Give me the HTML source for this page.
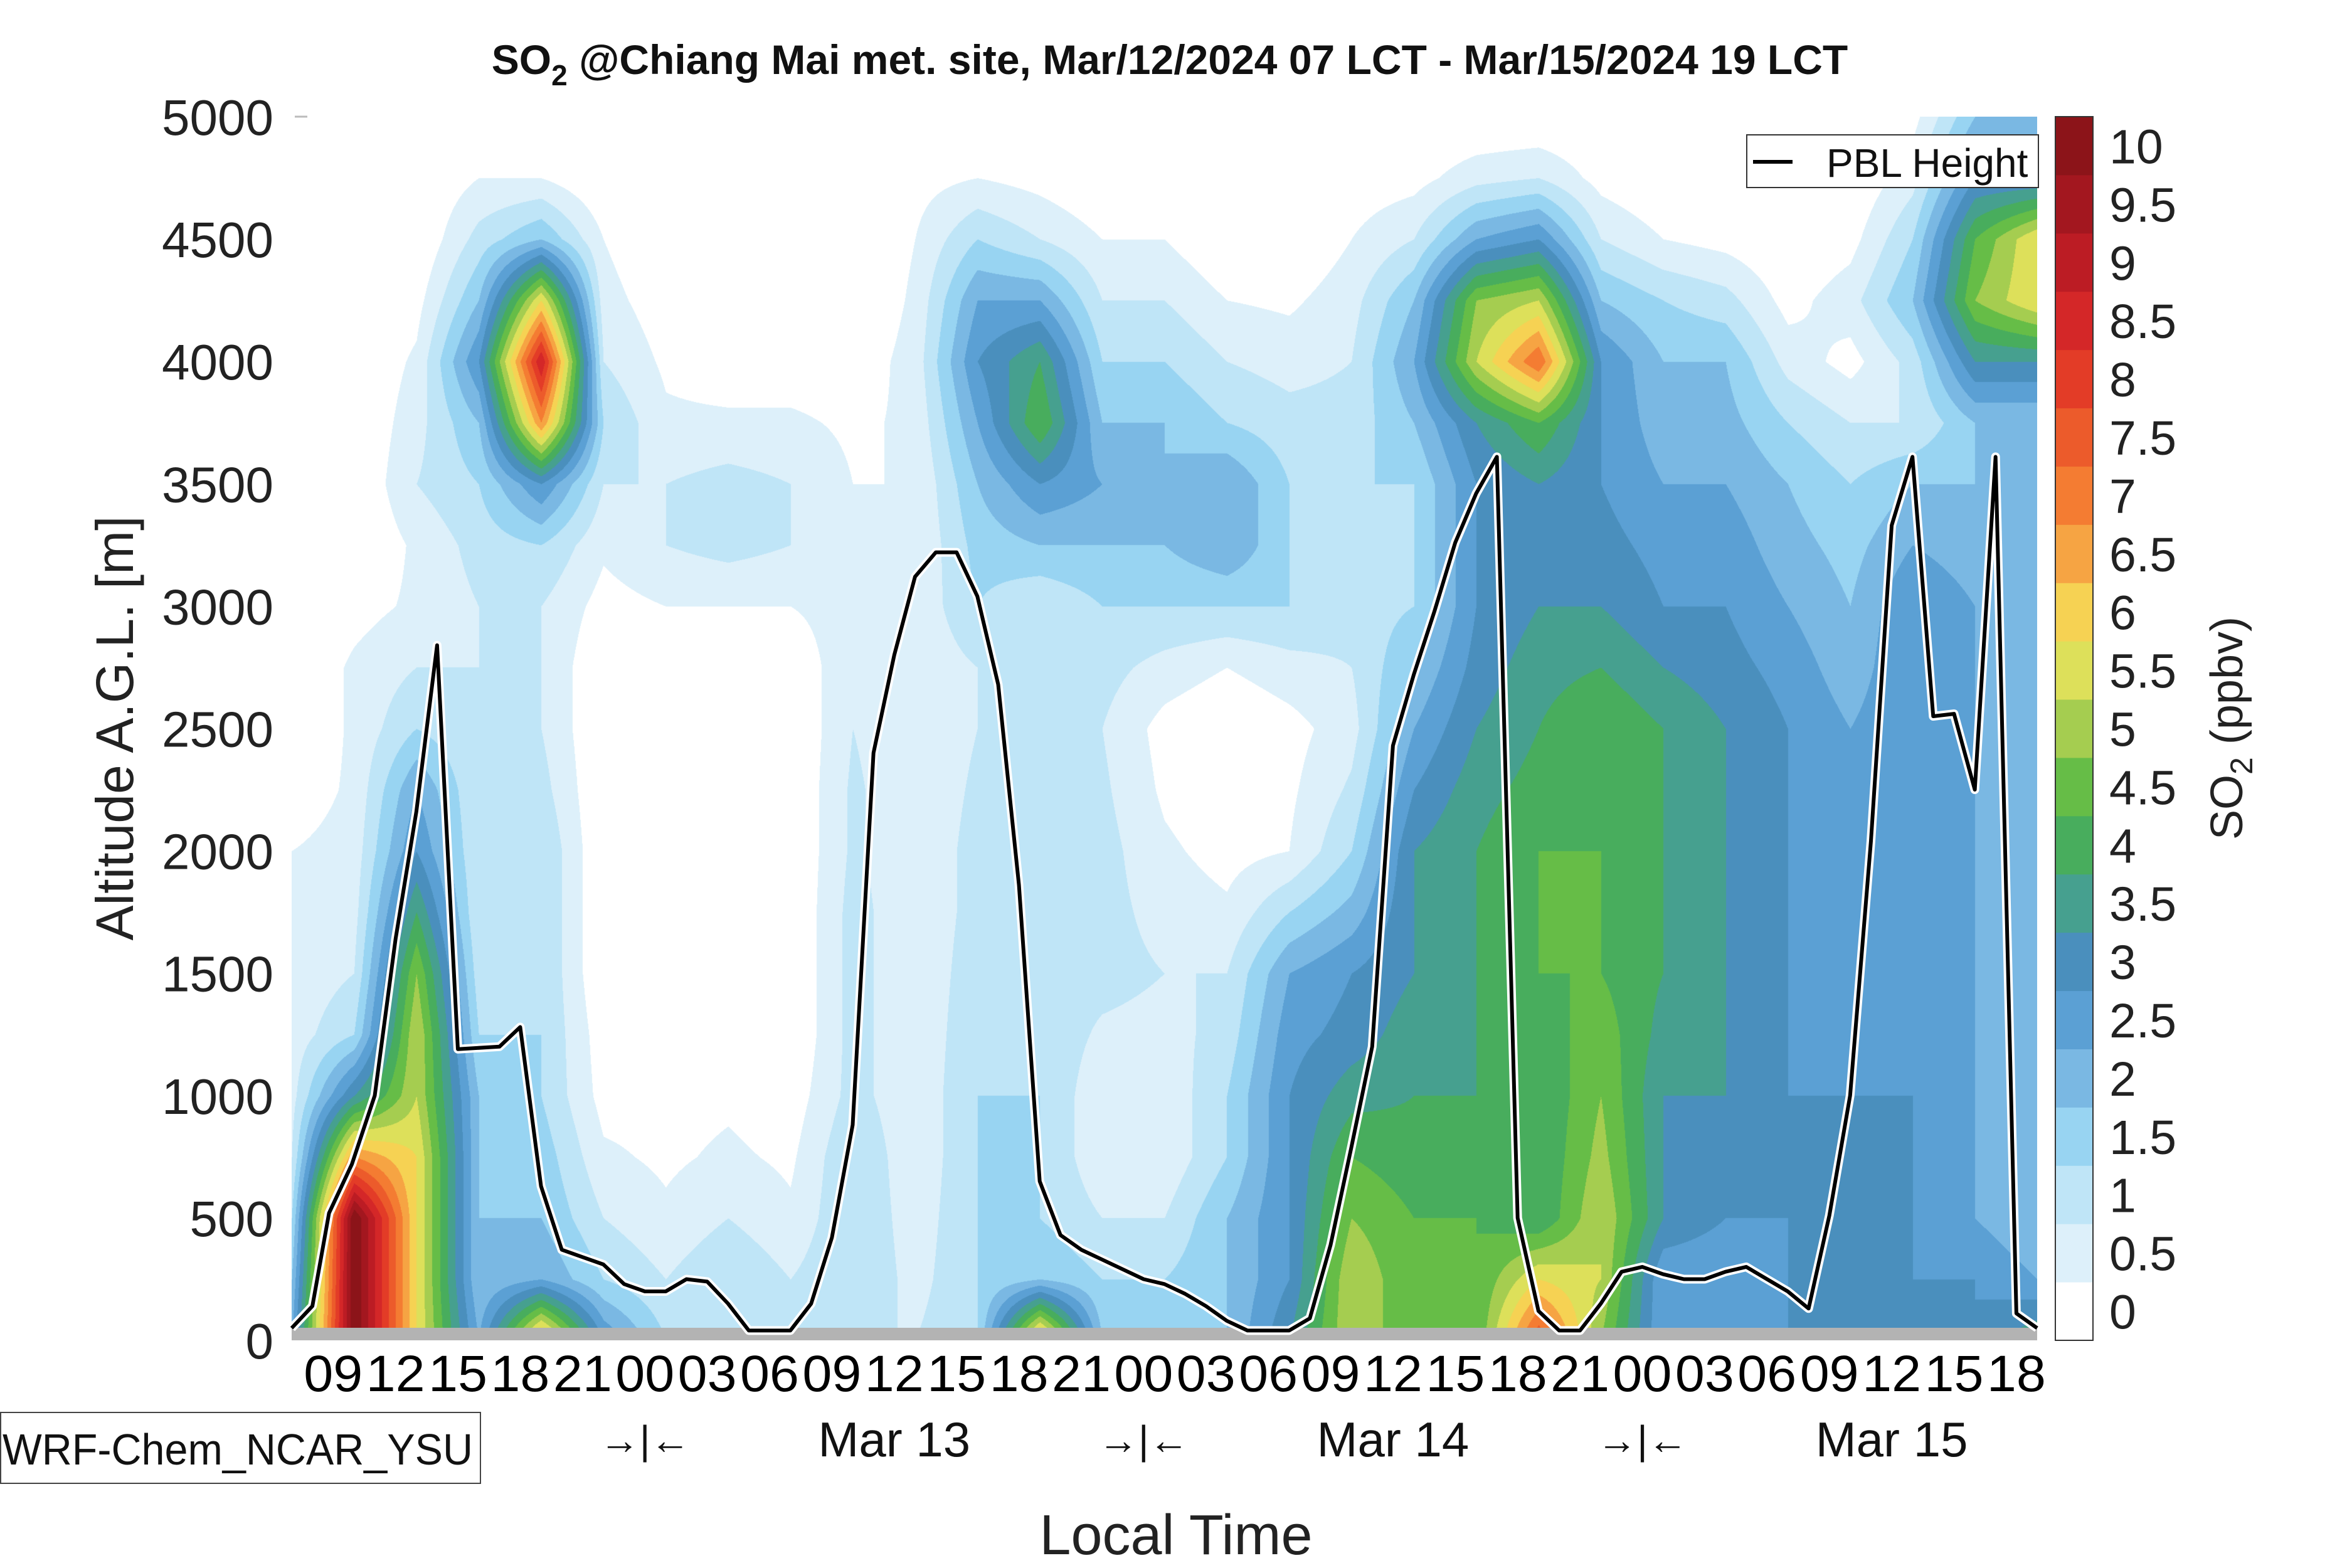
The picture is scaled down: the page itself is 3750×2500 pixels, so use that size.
<!DOCTYPE html>
<html><head><meta charset="utf-8">
<style>
html,body{margin:0;padding:0;background:#fff;}
#wrap{position:relative;width:3750px;height:2500px;overflow:hidden;font-family:"Liberation Sans",sans-serif;}
#field{position:absolute;left:465px;top:186px;}
#over{position:absolute;left:0;top:0;}
</style></head>
<body>
<div id="wrap">
<canvas id="field" width="2783" height="1951"></canvas>
<svg id="over" width="3750" height="2500" xmlns="http://www.w3.org/2000/svg">
</svg>
</div>
<script>
// ---- data ----
const hours = [0,3,6,9,12,15,18,21,24,27,30,33,36,39,42,45,48,51,54,57,60,63,66,69,72,75,78,81,84];
const heights = [0,250,500,750,1000,1250,1500,1750,2000,2250,2500,2750,3000,3250,3500,3750,4000,4250,4500,4750,5000];
const c0=[2.5,2,1.5,1,0.8,0.7,0.6,0.6,0.5,0.2,0,0,0,0,0,0,0,0,0,0,0];
const c1=[10.5,10.5,10.5,7,3.5,1.5,1,0.8,0.7,0.6,0.6,0.6,0.3,0,0,0,0,0,0,0,0];
const c2=[6,6,6,6,5.5,5.5,5,4,3,2.5,1.5,1,0.6,0.6,1,0.8,0.6,0.3,0,0,0];
const c3=[2.5,2,2,2,2,1.5,1.2,1,1,1,1,1,1,1.2,1.5,2,3,2,1.2,0.5,0];
const c4=[7,2.5,2,1.8,1.5,1.5,1.5,1.5,1.5,1.2,1,1,1,1.5,3,7,9,6,2,0.5,0];
const c5=[3,1.5,1,0.6,0.3,0.2,0,0,0,0,0,0,0.3,0.6,1,1.5,1,0.7,0.5,0,0];
const c6=[1.5,1,0.6,0.4,0.3,0.1,0,0,0,0,0,0,0.5,1,1,0.6,0.4,0.2,0,0,0];
const c7=[1.5,1.5,1,0.6,0.4,0.1,0,0,0,0,0,0,0.5,1.2,1.2,0.6,0.2,0,0,0,0];
const c8=[1,1,0.6,0.4,0.2,0,0,0,0,0,0,0,0.5,1,1,0.6,0.2,0,0,0,0];
const c9=[1,1.5,1.5,1.5,1.2,1.2,1.2,1.2,1.1,1.1,1,1,0.8,0.6,0.5,0.4,0.2,0,0,0,0];
const c10=[1,0.8,0.7,0.6,0.6,0.6,0.6,0.6,0.6,0.6,0.6,0.6,0.6,0.5,0.5,0.6,0.7,0.6,0.5,0.3,0];
const c11=[1.5,1.5,1.5,1.5,1.5,1.4,1.3,1.2,1.2,1.1,1,1,1.5,1.7,2,2.5,3,2.5,1.5,0.5,0];
const c12=[7,2,1.5,1.5,1.5,1.4,1.2,1.2,1.2,1,1,1,1,2,3,4.5,4,2.5,1,0.3,0];
const c13=[2,1.5,1,0.6,0.6,0.9,1.2,1.2,1.2,1.1,1,1.2,1.5,2,2.5,2,1.5,1,0.5,0,0];
const c14=[1.5,1.5,1,0.6,0.6,0.8,1,0.8,0.6,0.4,0.3,0.8,1.5,2,2,2,1.5,1,0.5,0,0];
const c15=[2,2,2,1.5,1.5,1.2,1,0.6,0.3,0.1,0,0.5,1.5,2.5,2.5,1.5,1,0.5,0,0,0];
const c16=[3.5,3,3,3,3,2.8,2.5,1.5,0.5,0.4,0.3,0.8,1.5,1.5,1.5,1.2,0.8,0.4,0,0,0];
const c17=[5.5,5.5,5,4.5,3.8,3.2,3,2.2,1.5,1.1,0.8,1,1.2,1.4,1.5,1.2,1,0.8,0.5,0.2,0];
const c18=[4.5,4.5,4.5,4.2,4,3.8,3.5,3.5,3.5,3,2.5,2,1.5,1.5,1.5,2,2.5,2,1,0.3,0];
const c19=[4.5,4.5,4.5,4.2,4,4,4,4,4,3.8,3.5,3.2,3,3,3,3.5,5.5,5,2.5,0.8,0];
const c20=[8,6,4,4,4,4.2,4.5,4.5,4.5,4.2,4,3.8,3.5,3.5,3.5,4.5,7.5,5.5,3,1,0];
const c21=[5,5.5,5.5,5.2,5,4.8,4.5,4.5,4.5,4.5,4.5,4,3.5,3.2,3,3,3,2,1,0.3,0];
const c22=[2.5,2.5,3.5,3.5,3.5,3.8,4,4,4,4,4,3.5,3,2.8,2.5,2.2,2,1.5,0.5,0,0];
const c23=[2.5,2.5,3,3.2,3.5,3.5,3.5,3.5,3.5,3.5,3.5,3.2,3,2.8,2.5,2.2,2,1.2,0.3,0,0];
const c24=[3,3,3,3,3,3,3,3,3,3,3,2.8,2.5,2.2,2,1.5,0.8,0.3,0,0,0];
const c25=[3,3,3,3,3,2.8,2.8,2.6,2.5,2.5,2.5,2.2,2,1.8,1.5,1,0.3,0.8,0.3,0,0];
const c26=[3,3,3,3,3,3,3,3,3,3,3,3,3,2.5,2,1,1.2,2,1.5,0.8,0.3];
const c27=[3,3,2.5,2.5,2.5,2.5,2.5,2.5,2.5,2.5,2.5,2.5,2.5,2.2,2,2,3.5,5,4.5,3,2];
const c28=[4,2.5,2,2,2,2,2,2,2,2,2,2,2,2,2,2,3.5,6,6,3,2];
const so2Columns=[c0,c1,c2,c3,c4,c5,c6,c7,c8,c9,c10,c11,c12,c13,c14,c15,c16,c17,c18,c19,c20,c21,c22,c23,c24,c25,c26,c27,c28];
const pblHours=[0,1,1.8,2.9,4,5,6,7,8,10,11,12,13,14,15,16,17,18,19,20,21,22,23,24,25,26,27,28,29,30,31,32,33,34,35,36,37,38,39,40,41,42,43,44,45,46,47,48,49,50,51,52,53,54,55,56,57,58,59,60,61,62,63,64,65,66,67,68,69,70,71,72,73,74,75,76,77,78,79,80,81,82,83,84];
const pblHeights=[50,140,520,720,1000,1640,2160,2840,1190,1200,1280,630,370,340,310,230,200,200,250,240,150,40,40,40,150,420,880,2400,2800,3120,3220,3220,3040,2680,1860,650,430,370,330,290,250,230,190,140,80,40,40,40,90,390,790,1200,2430,2720,2980,3260,3460,3610,500,120,40,40,150,280,300,270,250,250,280,300,250,200,130,510,1000,2040,3330,3610,2550,2560,2250,3610,110,50];
const levelLabels=["0","0.5","1","1.5","2","2.5","3","3.5","4","4.5","5","5.5","6","6.5","7","7.5","8","8.5","9","9.5","10"];
const levelColors=["#ffffff","#ddf0fa","#bfe5f7","#98d4f2","#7ab8e3","#5ba0d4","#4a8fbd","#46a08f","#48ad5d","#66bd47","#a5cd50","#dde05a","#f6d253","#f6a443","#f47c32","#ec5b2b","#e33c27","#d42728","#bc1c24","#a3171f","#8c1419"];
const yTicks=[0,500,1000,1500,2000,2500,3000,3500,4000,4500,5000];
const xTickHours=[2,5,8,11,14,17,20,23,26,29,32,35,38,41,44,47,50,53,56,59,62,65,68,71,74,77,80,83];
const xTickLabels=["09","12","15","18","21","00","03","06","09","12","15","18","21","00","03","06","09","12","15","18","21","00","03","06","09","12","15","18"];
const dayHours=[29,53,77];
const dayLabels=["Mar 13","Mar 14","Mar 15"];
const sepHours=[17,41,65];

// ---- axes ----
const PL=465,PR=3248,PT=186,PB=2137,PW=PR-PL,PH=PB-PT;
const xS=h=>PL+h/84*PW;
const yS=m=>PB-m/5000*PH;
const NS="http://www.w3.org/2000/svg";
const svg=document.getElementById('over');
function mk(tag,attrs){const e=document.createElementNS(NS,tag);for(const k in attrs)e.setAttribute(k,attrs[k]);svg.appendChild(e);return e;}

(function(){
const cv=document.getElementById('field');const ctx=cv.getContext('2d');
const img=ctx.createImageData(PW,PH);const d=img.data;
const rgb=levelColors.map(c=>[parseInt(c.substr(1,2),16),parseInt(c.substr(3,2),16),parseInt(c.substr(5,2),16)]);
const nx=hours.length,ny=heights.length;
for(let py=0;py<PH;py++){
  const m=(PH-py)/PH*5000;
  let fy=m/5000*(ny-1);let j=Math.min(ny-2,Math.floor(fy));let ty=fy-j;
  for(let px=0;px<PW;px++){
    const h=px/PW*84;let fx=h/84*(nx-1);let i=Math.min(nx-2,Math.floor(fx));let tx=fx-i;
    const a=so2Columns[i][j],b=so2Columns[i+1][j],c=so2Columns[i][j+1],e=so2Columns[i+1][j+1];
    const v=(a*(1-tx)+b*tx)*(1-ty)+(c*(1-tx)+e*tx)*ty;
    let k=Math.floor(v/0.5);if(k<0)k=0;if(k>20)k=20;
    const o=(py*PW+px)*4;d[o]=rgb[k][0];d[o+1]=rgb[k][1];d[o+2]=rgb[k][2];d[o+3]=255;
  }
}
ctx.putImageData(img,0,0);
})();

const g=mk('rect',{x:PL,y:PB-20,width:PW,height:20,fill:'#b3b3b3'});



let pts=pblHours.map((h,i)=>xS(h).toFixed(1)+','+yS(pblHeights[i]).toFixed(1)).join(' ');
const pw=mk('polyline',{points:pts,fill:'none',stroke:'#fff',"stroke-width":14,"stroke-linejoin":"round"});


const pl=mk('polyline',{points:pts,fill:'none',stroke:'#000',"stroke-width":6,"stroke-linejoin":"round"});



yTicks.forEach(v=>{
  const t=mk('text',{x:436,y:yS(v)+29,"text-anchor":"end","font-size":80,fill:'#222'});
  t.textContent=v;
  
  
});
const tk=mk('line',{x1:PL+5,x2:PL+25,y1:yS(5000),y2:yS(5000),stroke:'#bbb',"stroke-width":3});


xTickHours.forEach((h,i)=>{
  const t=mk('text',{x:xS(h),y:2218,"text-anchor":"middle","font-size":82,fill:'#000',"textLength":94,"lengthAdjust":"spacingAndGlyphs"});
  t.textContent=xTickLabels[i];
  
  
});
dayHours.forEach((h,i)=>{
  const t=mk('text',{x:xS(h),y:2322,"text-anchor":"middle","font-size":78,fill:'#111'});
  t.textContent=dayLabels[i];
  
  
});
sepHours.forEach(h=>{
  const t=mk('text',{x:xS(h),y:2318,"text-anchor":"middle","font-size":64,fill:'#111'});
  t.textContent='→|←';
  
  
});

const CBX=3277,CBW=60,bh=PH/21;
levelColors.forEach((c,i)=>{
  const r=mk('rect',{x:CBX,y:PB-(i+1)*bh,width:CBW,height:bh+0.5,fill:c});
  
  
  const t=mk('text',{x:3363,y:PB-(i+0.5)*bh+28,"font-size":77,fill:'#222'});
  t.textContent=levelLabels[i];
  
  
});
const cbb=mk('rect',{x:CBX,y:PT,width:CBW,height:PH,fill:'none',stroke:'#333',"stroke-width":2});



svg.insertAdjacentHTML('beforeend',`
<text x="1865" y="118" text-anchor="middle" font-size="66" font-weight="bold" fill="#111">SO<tspan font-size="46" dy="18">2</tspan><tspan dy="-18"> @Chiang Mai met. site, Mar/12/2024 07 LCT - Mar/15/2024 19 LCT</tspan></text>
<text transform="translate(212,1161) rotate(-90)" text-anchor="middle" font-size="84" fill="#222">Altitude A.G.L. [m]</text>
<text x="1875" y="2478" text-anchor="middle" font-size="90" fill="#222">Local Time</text>
<text transform="translate(3575,1161) rotate(-90)" text-anchor="middle" font-size="72" fill="#222">SO<tspan font-size="50" dy="16">2</tspan><tspan dy="-16"> (ppbv)</tspan></text>
<g>
<rect x="2785" y="215" width="465" height="84" fill="#fff" stroke="#333" stroke-width="2"/>
<line x1="2795" x2="2858" y1="258" y2="258" stroke="#000" stroke-width="6"/>
<text x="2912" y="282" font-size="64" fill="#111">PBL Height</text>
</g>
<g>
<rect x="1" y="2252" width="765" height="113" fill="#fff" stroke="#444" stroke-width="2"/>
<text x="4" y="2335" font-size="70" fill="#111" textLength="750" lengthAdjust="spacingAndGlyphs">WRF-Chem_NCAR_YSU</text>
</g>`);
</script>
</body></html>
